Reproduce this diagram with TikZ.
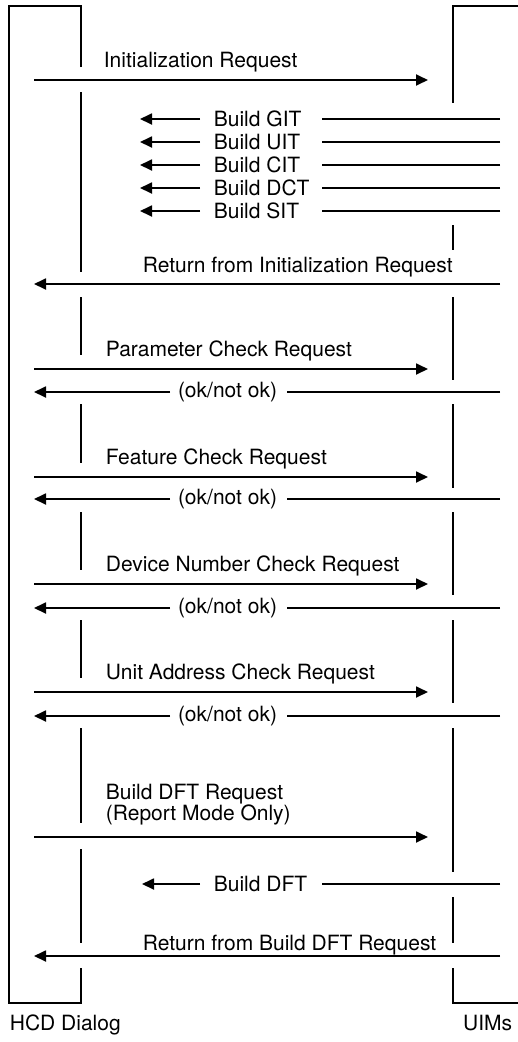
\documentclass[tikz,border=0pt]{standalone}
\usepackage{fontspec}
\setmainfont{TeX Gyre Heros}
\usetikzlibrary{arrows.meta}
\begin{document}
\begin{tikzpicture}[x=1pt,y=-1pt,line width=1.8pt,
  msg/.style={-{Triangle[length=12pt,width=11pt]}},
  lbl/.style={font=\fontsize{21}{22}\selectfont,inner sep=0pt,anchor=base west},
  midlbl/.style={font=\fontsize{21}{22}\selectfont,inner sep=0pt}]
\useasboundingbox (0,0) rectangle (518,1042);
% frames
\draw (81,67) -- (81,6) -- (9,6) -- (9,1003) -- (81,1003) -- (81,968);
\draw (520,6) -- (453,6) -- (453,103);
\draw (453,968) -- (453,1003) -- (520,1003);
% lifeline segments
\foreach \a/\b in {92/272,297/355,404/463,512/570,620/678,728/823,849/943}
  \draw (81,\a) -- (81,\b);
\foreach \a/\b in {225/250,297/380,404/488,512/595,620/703,728/872,897/943}
  \draw (453,\a) -- (453,\b);
% Initialization request
\node[lbl] (init) at (103,67) {Initialization Request};
\coordinate (initL) at (34,80);
\coordinate (initR) at (428,80);
\draw[msg] (initL) -- (initR);
% Build tables
\foreach \t/\y [count=\i] in {GIT/119,UIT/142,CIT/165,DCT/188,SIT/211}{
  \node[midlbl,anchor=west] (b\i) at (213,\y) {Build \t};
  \coordinate (bR\i) at (500,\y);
  \coordinate (bM\i) at (322,\y);
  \coordinate (bA\i) at (200,\y);
  \coordinate (bT\i) at (140,\y);
  \draw (bR\i) -- (bM\i);
  \draw[msg] (bA\i) -- (bT\i);
}
% Return from initialization
\node[lbl] (rinit) at (142,272) {Return from Initialization Request};
\coordinate (rinitR) at (500,284);
\coordinate (rinitL) at (34,284);
\draw[msg] (rinitR) -- (rinitL);
% check requests
\foreach \t/\yb/\ya [count=\i] in {Parameter Check Request/356/369,Feature Check Request/464/477,Device Number Check Request/571/584,Unit Address Check Request/679/692}{
  \node[lbl] (req\i) at (105,\yb) {\t};
  \coordinate (reqL\i) at (34,\ya);
  \coordinate (reqR\i) at (428,\ya);
  \draw[msg] (reqL\i) -- (reqR\i);
}
\foreach \y [count=\i] in {392,499,608,716}{
  \node[midlbl] (ok\i) at (227.5,\y) {(ok/not ok)};
  \coordinate (okR\i) at (500,\y);
  \coordinate (okM\i) at (287,\y);
  \coordinate (okA\i) at (170,\y);
  \coordinate (okT\i) at (34,\y);
  \draw (okR\i) -- (okM\i);
  \draw[msg] (okA\i) -- (okT\i);
}
% Build DFT request
\node[lbl] (dft1) at (105,799) {Build DFT Request};
\node[lbl] (dft2) at (105,820) {(Report Mode Only)};
\coordinate (dftL) at (34,837);
\coordinate (dftR) at (428,837);
\draw[msg] (dftL) -- (dftR);
% Build DFT
\node[midlbl,anchor=west] (bdft) at (213,884) {Build DFT};
\coordinate (bdftR) at (500,884);
\coordinate (bdftM) at (322,884);
\coordinate (bdftA) at (200,884);
\coordinate (bdftT) at (142,884);
\draw (bdftR) -- (bdftM);
\draw[msg] (bdftA) -- (bdftT);
% Return from Build DFT
\node[lbl] (rdft) at (142,950) {Return from Build DFT Request};
\coordinate (rdftR) at (500,956);
\coordinate (rdftL) at (34,956);
\draw[msg] (rdftR) -- (rdftL);
% participant labels
\node[lbl] (hcd) at (9,1030) {HCD Dialog};
\node[lbl,anchor=base east] (uims) at (513,1030) {UIMs};
\end{tikzpicture}
\end{document}
